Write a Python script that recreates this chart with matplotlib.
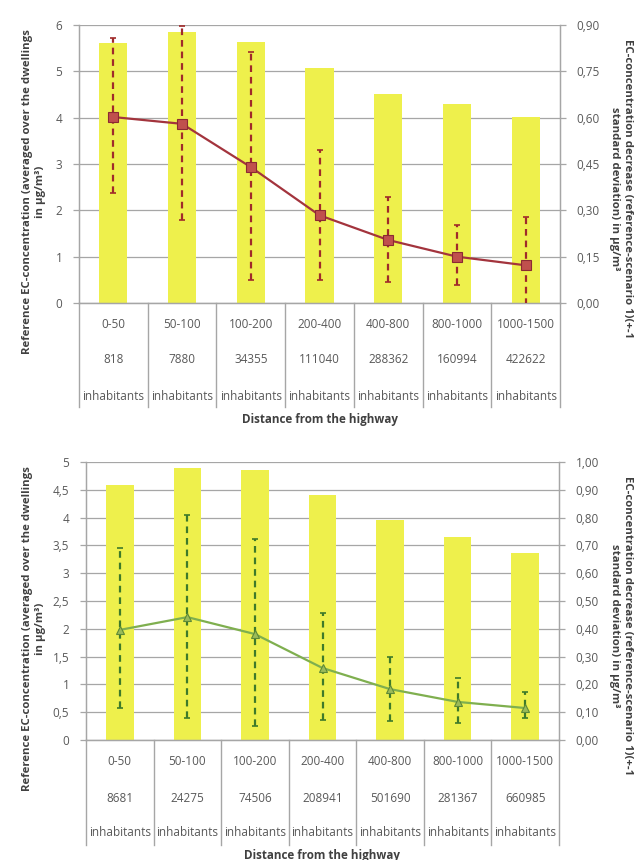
import matplotlib
matplotlib.use("Agg")
import matplotlib.pyplot as plt
import matplotlib.transforms as mtransforms
import numpy as np

plt.rcParams['font.family'] = ['Open Sans', 'DejaVu Sans']

categories = ["0-50", "50-100", "100-200", "200-400", "400-800", "800-1000", "1000-1500"]

# Top chart
top_inhabitants = ["818", "7880", "34355", "111040", "288362", "160994", "422622"]
top_bars = [5.61, 5.85, 5.64, 5.07, 4.51, 4.30, 4.01]
top_line = [0.602, 0.580, 0.440, 0.284, 0.204, 0.150, 0.122]
top_err_up = [0.256, 0.317, 0.373, 0.211, 0.139, 0.104, 0.156]
top_err_dn = [0.246, 0.311, 0.366, 0.209, 0.136, 0.092, 0.130]

# Bottom chart
bot_inhabitants = ["8681", "24275", "74506", "208941", "501690", "281367", "660985"]
bot_bars = [4.59, 4.89, 4.86, 4.41, 3.95, 3.66, 3.36]
bot_line = [0.396, 0.442, 0.381, 0.259, 0.183, 0.137, 0.115]
bot_err_up = [0.294, 0.368, 0.342, 0.198, 0.117, 0.086, 0.058]
bot_err_dn = [0.281, 0.363, 0.331, 0.187, 0.113, 0.077, 0.036]

top_left_ticks = [0, 1, 2, 3, 4, 5, 6]
top_left_labels = ["0", "1", "2", "3", "4", "5", "6"]
top_right_ticks = [0, 0.15, 0.30, 0.45, 0.60, 0.75, 0.90]
top_right_labels = ["0,00", "0,15", "0,30", "0,45", "0,60", "0,75", "0,90"]

bot_left_ticks = [0, 0.5, 1, 1.5, 2, 2.5, 3, 3.5, 4, 4.5, 5]
bot_left_labels = ["0", "0,5", "1", "1,5", "2", "2,5", "3", "3,5", "4", "4,5", "5"]
bot_right_ticks = [0, 0.1, 0.2, 0.3, 0.4, 0.5, 0.6, 0.7, 0.8, 0.9, 1.0]
bot_right_labels = ["0,00", "0,10", "0,20", "0,30", "0,40", "0,50", "0,60", "0,70", "0,80", "0,90", "1,00"]

left_label = "Reference EC-concentration (averaged over the dwellings\nin µg/m³)"
right_label = "EC-concentration decrease (reference-scenario 1)(+-1\nstandard deviation) in µg/m³"
x_title = "Distance from the highway"
inh_word = "inhabitants"

TXT = "#595959"
GRID = "#A6A6A6"
BAR = "#EEF04C"

W, H = 641, 860
fig = plt.figure(figsize=(W / 100, H / 100), dpi=100)

TICK_FS = 8.5
CAT_FS = 8.5
LAB_FS = 8.2
TITLE_FS = 8.4


def make_chart(rect, bars, line, eup, edn, inh, lticks, llabels, rticks, rlabels,
               lmax, rmax, line_color, mfc, mec, marker, ecolor, ms, rows, sep_y, title_y,
               llabel_pos, rlabel_pos):
    ax = fig.add_axes(rect)
    x = np.arange(len(categories))
    ax.bar(x, bars, width=0.41, color=BAR, zorder=2)
    ax.set_xlim(-0.5, len(categories) - 0.5)
    ax.set_ylim(0, lmax)
    ax.set_yticks(lticks)
    ax.set_yticklabels(llabels)
    ax.set_xticks([])
    ax.yaxis.grid(True, color=GRID, linewidth=0.9, zorder=0)
    ax.set_axisbelow(True)
    ax.spines["top"].set_visible(False)
    for s in ["left", "bottom", "right"]:
        ax.spines[s].set_color(GRID)
        ax.spines[s].set_linewidth(1.0)
    ax.tick_params(axis='y', length=4, width=0.9, color=GRID, labelcolor=TXT,
                   labelsize=TICK_FS, pad=8)
    ax.set_ylabel(left_label, fontsize=LAB_FS, fontweight='bold', color="#404040", linespacing=1.2)
    ax.yaxis.set_label_coords(*llabel_pos)

    ax2 = ax.twinx()
    ax2.set_ylim(0, rmax)
    ax2.set_yticks(rticks)
    ax2.set_yticklabels(rlabels)
    ax2.tick_params(axis='y', length=4, width=0.9, color=GRID, labelcolor=TXT,
                    labelsize=TICK_FS, pad=8)
    ax2.spines["top"].set_visible(False)
    for s in ["left", "bottom", "right"]:
        ax2.spines[s].set_color(GRID)
    ax2.set_ylabel(right_label, fontsize=LAB_FS, fontweight='bold', color="#404040",
                   rotation=-90, linespacing=1.2, va='bottom')
    ax2.yaxis.set_label_coords(*rlabel_pos)

    eb = ax2.errorbar(x, line, yerr=[edn, eup], fmt='none', ecolor=ecolor,
                      elinewidth=1.6, capsize=2, capthick=1.2, zorder=3, clip_on=True)
    eb[2][0].set_linestyle((0, (3, 2.2)))
    ax2.plot(x, line, color=line_color, linewidth=1.6, marker=marker, ms=ms,
             markerfacecolor=mfc, markeredgecolor=mec, markeredgewidth=0.8, zorder=4)

    trans = mtransforms.blended_transform_factory(ax.transData, ax.transAxes)
    for i, c in enumerate(categories):
        ax.text(i, rows[0], c, transform=trans, ha='center', va='center', fontsize=CAT_FS, color=TXT)
        ax.text(i, rows[1], inh[i], transform=trans, ha='center', va='center', fontsize=CAT_FS, color=TXT)
        ax.text(i, rows[2], inh_word, transform=trans, ha='center', va='center', fontsize=CAT_FS, color=TXT)
    for b in np.arange(len(categories) + 1) - 0.5:
        ax.plot([b, b], [0, sep_y], transform=trans, color=GRID, linewidth=1.0, clip_on=False)
    ax.text(3, title_y, x_title, transform=trans, ha='center', va='center', fontsize=TITLE_FS,
            fontweight='bold', color="#404040")
    return ax, ax2


# Top chart rect
l1, r1 = 79 / W, 560 / W
b1, t1 = 1 - 303 / H, 1 - 25 / H
w1 = 560 - 79
make_chart([l1, b1, r1 - l1, t1 - b1], top_bars, top_line, top_err_up, top_err_dn,
           top_inhabitants, top_left_ticks, top_left_labels, top_right_ticks, top_right_labels,
           6, 0.9, "#A3343D", "#C0504D", "#8B2A33", 's', "#A02A2A", 7,
           [-0.079, -0.205, -0.335], -0.374, -0.42,
           ((46 - 79) / w1, 0.40), ((609 - 79) / w1, 0.41))

l2, r2 = 86 / W, 559 / W
b2, t2 = 1 - 740 / H, 1 - 462 / H
w2 = 559 - 86
make_chart([l2, b2, r2 - l2, t2 - b2], bot_bars, bot_line, bot_err_up, bot_err_dn,
           bot_inhabitants, bot_left_ticks, bot_left_labels, bot_right_ticks, bot_right_labels,
           5, 1.0, "#7FAF4F", "#9BBB59", "#5E8A36", '^', "#3E7A2A", 6,
           [-0.079, -0.209, -0.331], -0.378, -0.414,
           ((46 - 86) / w2, 0.40), ((609 - 86) / w2, 0.41))

fig.savefig("out.png", dpi=100, facecolor="white")
